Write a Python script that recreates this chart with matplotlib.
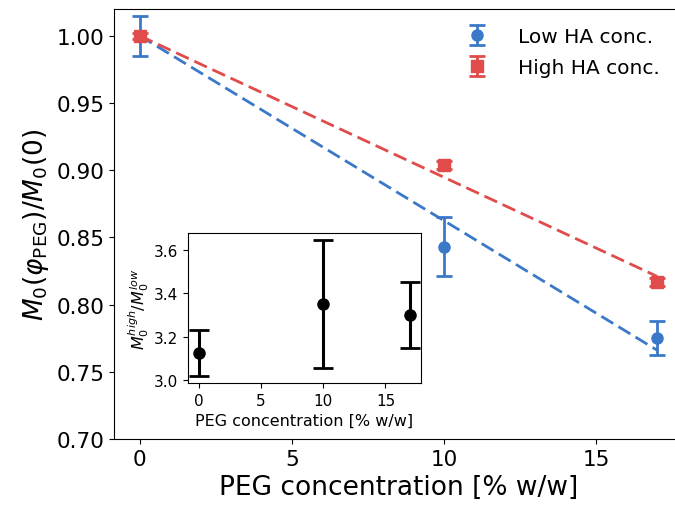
import matplotlib
matplotlib.use('Agg')
import matplotlib.pyplot as plt
import numpy as np

plt.rcParams.update({
    'font.family': 'DejaVu Sans',
    'mathtext.fontset': 'dejavusans',
})

# ── Data ──
PEG = [0, 10, 17]
LOW_M = [1.000, 0.843, 0.775]
LOW_ERR = [0.015, 0.022, 0.0125]
HIGH_M = [1.000, 0.904, 0.817]
HIGH_ERR = [0.002, 0.003, 0.003]
LOW_SLOPE = -0.01376
HIGH_SLOPE = -0.01053

RATIO = [3.125, 3.35, 3.30]
RATIO_ERR = [0.107, 0.295, 0.153]

BLUE = '#3a78c8'
RED = '#e04b4b'

fig = plt.figure(figsize=(6.75, 5.06), dpi=100)
ax = fig.add_axes([114/675, 1 - 440/506, (683 - 114)/675, (440 - 10)/506])

xfit = np.array([PEG[0], PEG[-1]])
ax.plot(xfit, 1 + LOW_SLOPE * xfit, color=BLUE, lw=2, ls=(0, (5, 2.2)), zorder=2)
ax.plot(xfit, 1 + HIGH_SLOPE * xfit, color=RED, lw=2, ls=(0, (5, 2.2)), zorder=2)

ax.errorbar(PEG, LOW_M, yerr=LOW_ERR, fmt='o', color=BLUE, markersize=8,
            capsize=5.5, elinewidth=2, capthick=2, label='Low HA conc.', zorder=3)
ax.errorbar(PEG, HIGH_M, yerr=HIGH_ERR, fmt='s', color=RED, markersize=8,
            capsize=5.5, elinewidth=2, capthick=2, label='High HA conc.', zorder=4)

ax.set_xlim(-0.85, 17.85)
ax.set_ylim(0.70, 1.02)
ax.set_xticks([0, 5, 10, 15])
ax.set_yticks([0.70, 0.75, 0.80, 0.85, 0.90, 0.95, 1.00])
ax.tick_params(labelsize=15.5)
ax.set_xlabel('PEG concentration [% w/w]', fontsize=19)
ax.set_ylabel(r'$M_0(\varphi_{\rm PEG})/M_0(0)$', fontsize=19)
ax.legend(loc='upper left', bbox_to_anchor=(0.57, 1.0), frameon=False,
          fontsize=14.5, handletextpad=1.05, labelspacing=0.6)

# ── Inset ──
ins = fig.add_axes([188/675, 1 - 384/506, (421 - 188)/675, (384 - 234)/506])
ins.errorbar(PEG, RATIO, yerr=RATIO_ERR, fmt='o', color='black', markersize=8,
             capsize=7, elinewidth=2.2, capthick=2)
ins.set_xticks([0, 5, 10, 15])
ins.set_yticks([3.0, 3.2, 3.4, 3.6])
ins.tick_params(labelsize=11)
ins.set_xlabel('PEG concentration [% w/w]', fontsize=11.5)
ins.set_ylabel(r'$M_0^{high}/M_0^{low}$', fontsize=11.5, labelpad=2)

fig.savefig('out.png', dpi=100)
